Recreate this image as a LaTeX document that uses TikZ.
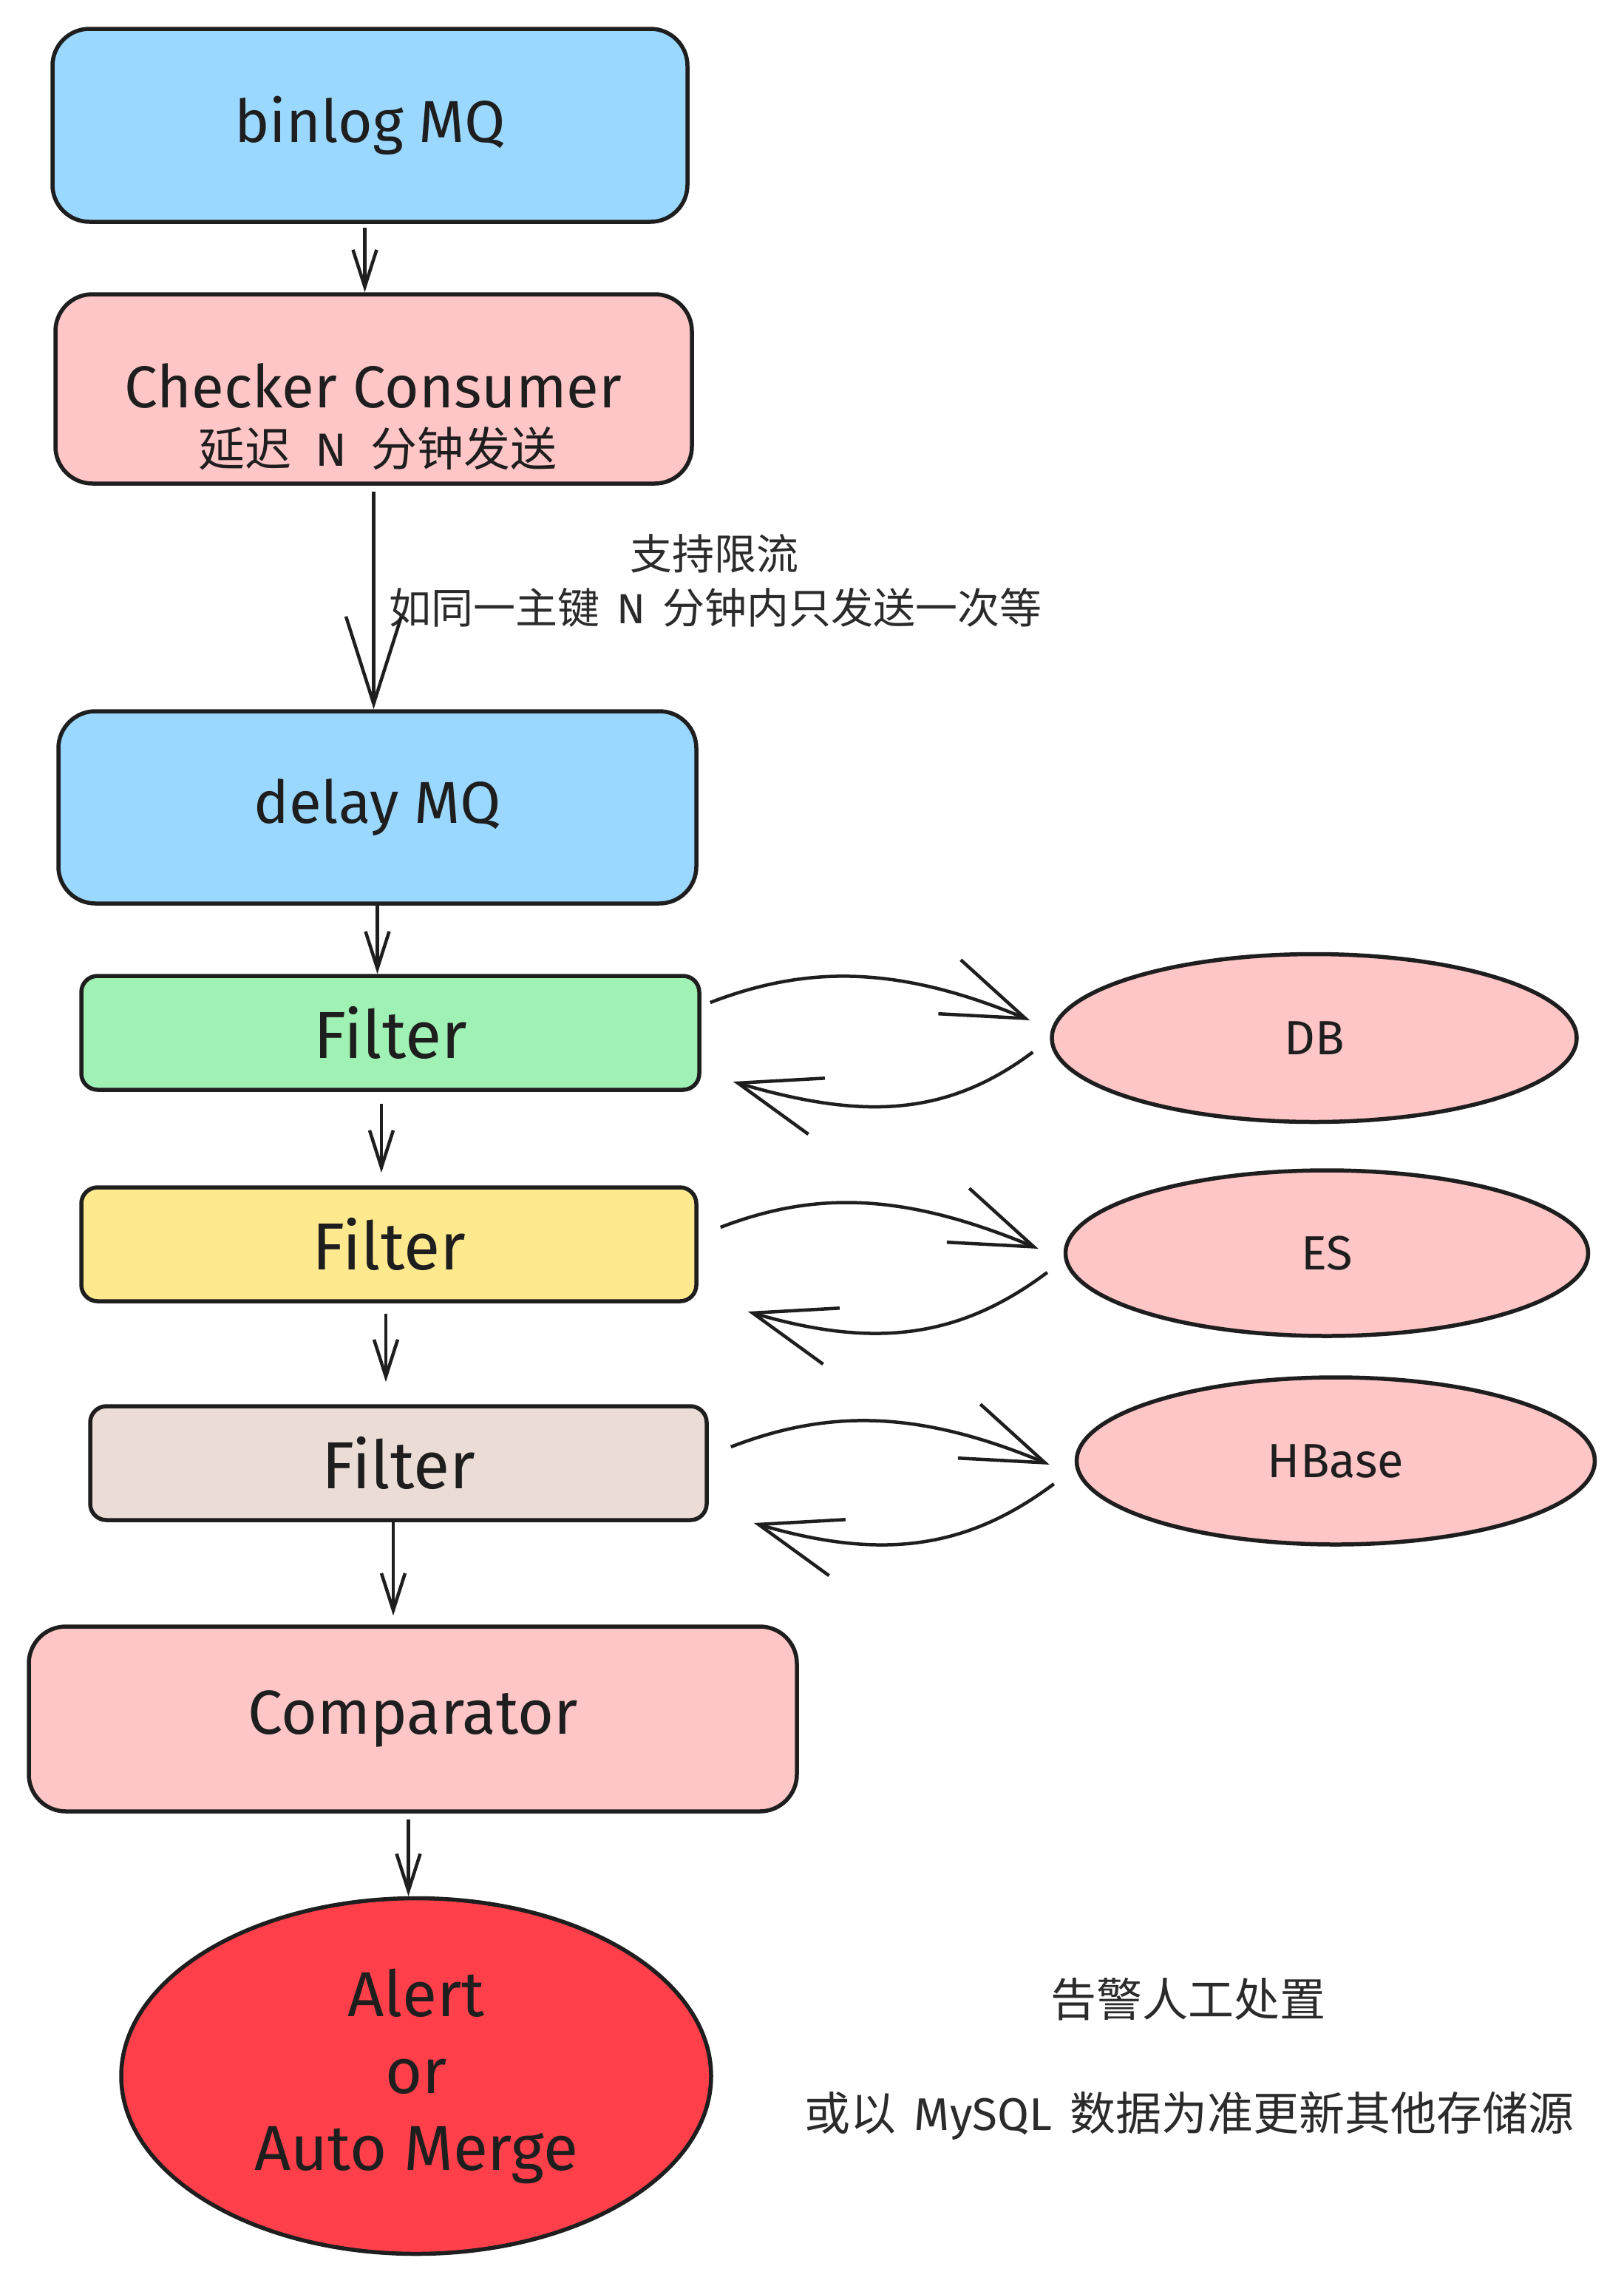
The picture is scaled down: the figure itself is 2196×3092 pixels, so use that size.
\documentclass[tikz,border=0pt]{standalone}
\usepackage{fontspec}
\setmainfont{Fira Sans}
\newfontfamily\cjk{Noto Sans CJK SC}
\usetikzlibrary{shapes.geometric,arrows.meta,calc}
\definecolor{ink}{HTML}{1E1E1E}
\definecolor{notec}{HTML}{2B2B2B}
\definecolor{bluec}{HTML}{9AD8FF}
\definecolor{pinkc}{HTML}{FFC6C7}
\definecolor{greenc}{HTML}{A0F2B4}
\definecolor{yellowc}{HTML}{FFE98F}
\definecolor{beigec}{HTML}{EBDCD5}
\definecolor{redc}{HTML}{FF404B}
\begin{document}
\begin{tikzpicture}[x=1pt,y=-1pt,
  box/.style={draw=ink, line width=5.5pt, rounded corners=50pt, inner sep=0pt, text=ink,
    font=\fontsize{80}{96}\selectfont},
  fbox/.style={box, rounded corners=22pt, font=\fontsize{90}{108}\selectfont},
  store/.style={ellipse, draw=ink, fill=pinkc, line width=5.5pt, inner sep=0pt, text=ink,
    font=\fontsize{65}{78}\selectfont},
  lbl/.style={text=ink, inner sep=0pt, font=\fontsize{80}{96}\selectfont},
  note/.style={text=notec, inner sep=0pt},
  arr/.style={draw=ink, line width=4.5pt, -{Straight Barb[length=50pt,width=32pt]}},
  bigarr/.style={draw=ink, line width=4.5pt, -{Straight Barb[length=118pt,width=75pt]}},
  carr/.style={draw=ink, line width=4.5pt, -{Straight Barb[length=111pt,width=79pt]}}
]
\useasboundingbox[fill=white] (0,0) rectangle (2196,3092);

% main column
\node[box, fill=bluec, minimum width=859pt, minimum height=261pt] (binlog) at (500.5,169.5) {binlog MQ};
\node[box, fill=pinkc, minimum width=861pt, minimum height=256pt] (checker) at (505.5,526) {};
\node[lbl] (cc1) at (505,522) {Checker Consumer};
\node[lbl, font=\fontsize{63}{76}\selectfont] (cc2) at (511,607) {{\cjk 延迟}\hspace{0.5em}N\hspace{0.5em}{\cjk 分钟发送}};
\node[box, fill=bluec, minimum width=863pt, minimum height=260pt] (delay) at (510.5,1092) {delay MQ};
\node[fbox, fill=greenc, minimum width=836pt, minimum height=154pt] (f1) at (528,1397) {Filter};
\node[fbox, fill=yellowc, minimum width=832pt, minimum height=154pt] (f2) at (526,1683) {Filter};
\node[fbox, fill=beigec, minimum width=834pt, minimum height=154pt] (f3) at (539,1979) {Filter};
\node[box, fill=pinkc, minimum width=1039pt, minimum height=250pt, font=\fontsize{84}{100}\selectfont] (comp) at (558.5,2325) {Comparator};
\node[ellipse, draw=ink, fill=redc, line width=5.5pt, inner sep=0pt, text=ink,
  minimum width=798pt, minimum height=481pt, align=center,
  font=\fontsize{86}{104}\selectfont] (alert) at (563,2808) {Alert\\or\\Auto Merge};

% stores
\node[store, minimum width=710pt, minimum height=227pt] (db) at (1778,1404) {DB};
\node[store, minimum width=707pt, minimum height=224pt] (es) at (1795,1695) {ES};
\node[store, minimum width=701pt, minimum height=226pt] (hb) at (1807,1976) {HBase};

% notes
\node[note, font=\cjk\fontsize{57}{68}\selectfont] (n1a) at (966,749) {支持限流};
\node[note, font=\cjk\fontsize{57}{68}\selectfont] (n1b) at (968,822) {如同一主键\hspace{0.4em}{\rmfamily N}\hspace{0.4em}分钟内只发送一次等};
\node[note, font=\cjk\fontsize{62}{74}\selectfont] (n2a) at (1607,2704) {告警人工处置};
\node[note, font=\cjk\fontsize{62}{74}\selectfont] (n2b) at (1609,2862) {或以\hspace{0.4em}{\rmfamily MySQL}\hspace{0.4em}数据为准更新其他存储源};

% vertical arrows
\draw[arr, shorten <=5pt] ([xshift=-7pt]binlog.south) -- ([xshift=-7pt]binlog.south |- checker.north);
\draw[bigarr, shorten <=8pt] (checker.south) -- (checker.south |- delay.north);
\draw[arr] (delay.south) -- (delay.south |- f1.north);
\draw[arr, shorten <=16pt, shorten >=17pt] ([xshift=-12pt]f1.south) -- ([xshift=-12pt]f1.south |- f2.north);
\draw[arr, shorten <=14pt, shorten >=30pt] ([xshift=-4pt]f2.south) -- ([xshift=-4pt]f2.south |- f3.north);
\draw[arr, shorten >=12pt] ([xshift=-7pt]f3.south) -- ([xshift=-7pt]f3.south |- comp.north);
\draw[arr, shorten <=8pt] ([xshift=-6pt]comp.south) -- ([xshift=-6pt]comp.south |- alert.north);

% curved arrows to / from stores
\draw[carr] ([xshift=12pt,yshift=41pt]f1.east) .. controls +(130,-50) and +(-180,-75) .. ([xshift=-27pt,yshift=24pt]db.west);
\draw[carr] ([xshift=-23pt,yshift=-19pt]db.west) .. controls +(-120,90) and +(170,50) .. ([xshift=43pt,yshift=-66pt]f1.east);
\draw[carr] ([xshift=30pt,yshift=23pt]f2.east) .. controls +(130,-50) and +(-180,-75) .. ([xshift=-34pt,yshift=6pt]es.west);
\draw[carr] ([xshift=-22pt,yshift=-26pt]es.west) .. controls +(-120,90) and +(170,50) .. ([xshift=67pt,yshift=-91pt]f2.east);
\draw[carr] ([xshift=30pt,yshift=22pt]f3.east) .. controls +(130,-50) and +(-180,-75) .. ([xshift=-34pt,yshift=-5pt]hb.west);
\draw[carr] ([xshift=-28pt,yshift=-31pt]hb.west) .. controls +(-120,90) and +(170,50) .. ([xshift=61pt,yshift=-81pt]f3.east);
\end{tikzpicture}
\end{document}
